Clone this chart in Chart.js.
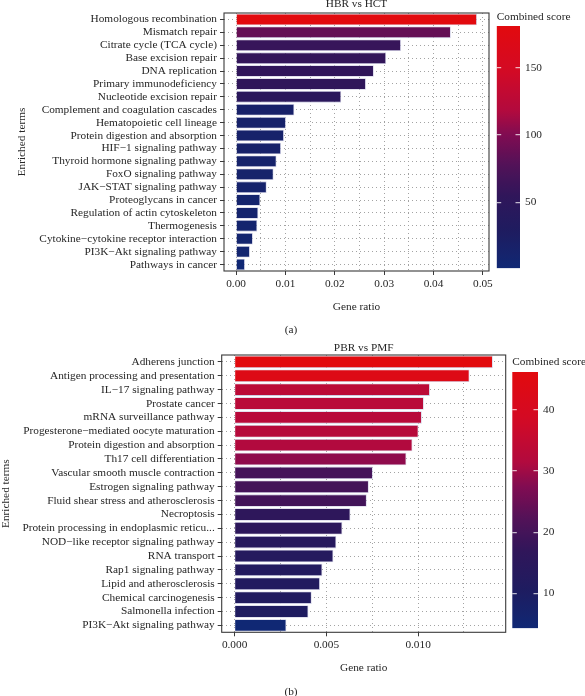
<!DOCTYPE html>
<html><head><meta charset="utf-8">
<script src="https://cdn.jsdelivr.net/npm/chart.js@4.4.1/dist/chart.umd.min.js"></script>
<style>
html,body{margin:0;padding:0;background:#fff;overflow:hidden;width:585px;height:696px;position:relative;}
canvas{position:absolute;display:block;}
.cap{position:absolute;font-family:'Liberation Serif',serif;font-size:11.3px;color:#262626;transform:translate(-50%,-50%);white-space:nowrap;}
</style></head><body>
<canvas id="mainA" width="585" height="340" style="left:0;top:0"></canvas>
<canvas id="barA" width="95" height="280" style="left:490px;top:0"></canvas>
<canvas id="mainB" width="585" height="356" style="left:0;top:340px"></canvas>
<canvas id="barB" width="90" height="300" style="left:506px;top:340px"></canvas>
<div class="cap" style="left:291px;top:329px">(a)</div>
<div class="cap" style="left:291px;top:691px">(b)</div>
<script>
// ---------- data ----------
const titleA = 'HBR vs HCT';
const termsA = ['Homologous recombination','Mismatch repair','Citrate cycle (TCA cycle)','Base excision repair','DNA replication','Primary immunodeficiency','Nucleotide excision repair','Complement and coagulation cascades','Hematopoietic cell lineage','Protein digestion and absorption','HIF\u22121 signaling pathway','Thyroid hormone signaling pathway','FoxO signaling pathway','JAK\u2212STAT signaling pathway','Proteoglycans in cancer','Regulation of actin cytoskeleton','Thermogenesis','Cytokine\u2212cytokine receptor interaction','PI3K\u2212Akt signaling pathway','Pathways in cancer'];
const ratioA = [0.0488,0.0435,0.0334,0.0304,0.0279,0.0263,0.0213,0.0118,0.0101,0.0097,0.0091,0.0082,0.0076,0.0062,0.0049,0.0045,0.0043,0.0034,0.0028,0.0018];
const scoreA = [181,87,60,57,55,53,48,16,15,15,14,13,13,12,10,10,9,8,7,1];
const xTicksA = [0,0.005,0.01,0.015,0.02,0.025,0.03,0.035,0.04,0.045,0.05];
const cbTicksA = [50,100,150];

const titleB = 'PBR vs PMF';
const termsB = ['Adherens junction','Antigen processing and presentation','IL\u221217 signaling pathway','Prostate cancer','mRNA surveillance pathway','Progesterone\u2212mediated oocyte maturation','Protein digestion and absorption','Th17 cell differentiation','Vascular smooth muscle contraction','Estrogen signaling pathway','Fluid shear stress and atherosclerosis','Necroptosis','Protein processing in endoplasmic reticu...','NOD\u2212like receptor signaling pathway','RNA transport','Rap1 signaling pathway','Lipid and atherosclerosis','Chemical carcinogenesis','Salmonella infection','PI3K\u2212Akt signaling pathway'];
const ratioB = [0.01407,0.0128,0.01064,0.01031,0.0102,0.01002,0.00969,0.00936,0.00753,0.00731,0.0072,0.00631,0.00587,0.00554,0.00538,0.00478,0.00465,0.0042,0.00402,0.00282];
const scoreB = [46.2,43.5,33.5,33,32.7,32.3,31.5,28.6,20.2,20,19.7,16,15.5,13.5,13,12.5,12,11.5,11,4.3];
const xTicksB = [0,0.0025,0.005,0.0075,0.01,0.0125];
const cbTicksB = [10,20,30,40];

// ---------- style ----------
const FONT = "'Liberation Serif','DejaVu Serif',serif";
const FS = 11.3;
const TXT = '#262626';
Chart.defaults.font.family = FONT;
Chart.defaults.font.size = FS;
Chart.defaults.color = TXT;

const STOPS = [[0,[16,40,116]],[0.15,[30,28,96]],[0.3,[48,22,90]],[0.42,[80,18,88]],[0.55,[128,12,82]],[0.65,[178,10,62]],[0.82,[212,10,36]],[1,[226,10,14]]];
function cmap(t){
  t = Math.max(0, Math.min(1, t));
  for (let i = 1; i < STOPS.length; i++) {
    if (t <= STOPS[i][0]) {
      const [t0,c0] = STOPS[i-1], [t1,c1] = STOPS[i];
      const f = (t - t0) / (t1 - t0);
      return 'rgb(' + c0.map((v,k) => Math.round(v + (c1[k]-v)*f)).join(',') + ')';
    }
  }
  return 'rgb(226,10,14)';
}

const panelBorder = {
  id: 'panelBorder',
  afterDatasetsDraw(chart){
    const {ctx, chartArea:a} = chart;
    ctx.save();
    ctx.strokeStyle = '#3a3a3a';
    ctx.lineWidth = 1.1;
    ctx.strokeRect(a.left, a.top, a.right - a.left, a.bottom - a.top);
    ctx.restore();
  }
};

function makeMain(id, terms, ratios, scores, title, xTicks, fmt, g){
  const lo = Math.min(...scores), hi = Math.max(...scores);
  const colors = scores.map(s => cmap((s - lo) / (hi - lo)));
  const rmax = Math.max(...ratios);
  return new Chart(document.getElementById(id), {
    type: 'bar',
    data: { labels: terms, datasets: [{ data: ratios, backgroundColor: colors, borderColor: 'rgba(200,200,225,0.9)', borderWidth: 0.8, barPercentage: 0.9, categoryPercentage: 1 }] },
    plugins: [panelBorder],
    options: {
      indexAxis: 'y', responsive: false, animation: false,
      layout: { padding: { left: 0, right: g.padRight, top: g.padTop, bottom: g.padBottom } },
      plugins: {
        legend: { display: false }, tooltip: { enabled: false },
        title: { display: true, text: title, fullSize: false, color: TXT, font: { size: FS, lineHeight: 1, weight: 'normal' }, padding: { top: g.tTop, bottom: g.tBottom } }
      },
      scales: {
        x: {
          type: 'linear', min: -0.05 * rmax, max: 1.05 * rmax,
          afterBuildTicks: s => { s.ticks = xTicks.map(v => ({ value: v })); },
          ticks: { autoSkip: false, maxRotation: 0, padding: 2, color: TXT, callback: (v, i) => (i % 2 === 0 ? fmt(v) : '') },
          grid: { color: '#a3a3a3', lineWidth: 1, tickLength: 4, tickWidth: 1, tickColor: c => (c.index % 2 === 0 ? '#3a3a3a' : 'rgba(0,0,0,0)') },
          border: { display: false, dash: [1, 3] },
          title: { display: true, text: 'Gene ratio', color: TXT, font: { size: FS }, padding: { top: 0, bottom: 6 } },
          afterFit: s => { s.height = 49; }
        },
        y: {
          type: 'category',
          ticks: { autoSkip: false, padding: 3, color: TXT },
          grid: { offset: false, color: '#a3a3a3', lineWidth: 1, tickLength: 4, tickWidth: 1, tickColor: '#3a3a3a' },
          border: { display: false, dash: [1, 3] },
          title: { display: true, text: 'Enriched terms', color: TXT, font: { size: FS, lineHeight: 1 }, padding: { top: g.yTitlePad, bottom: 0 } },
          afterFit: s => { s.width = g.yWidth; }
        }
      }
    }
  });
}

function makeColorbar(id, scores, ticks, g){
  const lo = Math.min(...scores), hi = Math.max(...scores);
  return new Chart(document.getElementById(id), {
    type: 'bar',
    data: { labels: [''], datasets: [{
      data: [[lo, hi]], borderWidth: 0, barPercentage: 1, categoryPercentage: 1,
      backgroundColor: c => {
        const a = c.chart.chartArea;
        if (!a) return 'rgba(0,0,0,0)';
        const gr = c.chart.ctx.createLinearGradient(0, a.bottom, 0, a.top);
        for (let i = 0; i <= 40; i++) gr.addColorStop(i / 40, cmap(i / 40));
        return gr;
      }
    }] },
    options: {
      responsive: false, animation: false,
      layout: { padding: { left: g.padLeft, right: 0, top: 0, bottom: g.padBottom } },
      plugins: {
        legend: { display: false }, tooltip: { enabled: false },
        title: { display: true, text: 'Combined score', align: 'start', color: TXT, font: { size: FS, lineHeight: 1, weight: 'normal' }, padding: { top: g.tTop, bottom: g.tBottom } }
      },
      scales: {
        x: { display: false },
        y: {
          position: 'right', min: lo, max: hi,
          afterBuildTicks: s => { s.ticks = ticks.map(v => ({ value: v })); },
          ticks: { padding: 5, color: TXT },
          grid: { z: 1, drawTicks: false, color: 'rgba(255,255,255,0.7)', lineWidth: 1.2 },
          border: { display: false, dash: [4.5, g.barW - 9] },
          afterFit: s => { s.width = g.yWidth; }
        }
      }
    }
  });
}

makeMain('mainA', termsA, ratioA, scoreA, titleA, xTicksA, v => v.toFixed(2),
  { padRight: 96, padTop: -1.35, padBottom: 20, tTop: 0, tBottom: 3.05, yTitlePad: 16.35, yWidth: 224 });
makeMain('mainB', termsB, ratioB, scoreB, titleB, xTicksB, v => v.toFixed(3),
  { padRight: 79.3, padTop: 0, padBottom: 14.7, tTop: 2.7, tBottom: 1, yTitlePad: 0, yWidth: 221.7 });
makeColorbar('barA', scoreA, cbTicksA, { padLeft: 6.7, padBottom: 9, tTop: 11.7, tBottom: 3, yWidth: 65, barW: 23.3 });
makeColorbar('barB', scoreB, cbTicksB, { padLeft: 6.3, padBottom: 7.7, tTop: 16.35, tBottom: 4.35, yWidth: 58, barW: 25.7 });
</script>
</body></html>
